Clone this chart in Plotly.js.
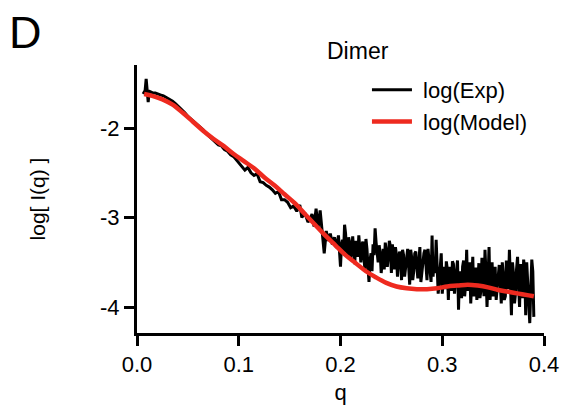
<!DOCTYPE html>
<html>
<head>
<meta charset="utf-8">
<script src="https://cdn.plot.ly/plotly-3.0.1.min.js"></script>
<style>
html,body{margin:0;padding:0;background:#fff;}
#chart{width:561px;height:405px;}
</style>
</head>
<body>
<div id="chart"></div>
<script>
// Model curve
var qModel = [0.007,0.015,0.025,0.035,0.045,0.055,0.065,0.075,0.085,0.095,0.105,0.115,0.125,0.135,0.145,0.155,0.165,0.175,0.185,0.195,0.205,0.215,0.225,0.235,0.245,0.255,0.265,0.275,0.285,0.295,0.305,0.315,0.325,0.335,0.345,0.355,0.365,0.375,0.385,0.390];
var logModel = [-1.62,-1.64,-1.68,-1.74,-1.83,-1.93,-2.03,-2.12,-2.20,-2.29,-2.37,-2.45,-2.55,-2.64,-2.74,-2.84,-2.96,-3.08,-3.20,-3.31,-3.42,-3.51,-3.60,-3.67,-3.73,-3.77,-3.79,-3.80,-3.80,-3.79,-3.77,-3.76,-3.75,-3.76,-3.78,-3.81,-3.83,-3.85,-3.87,-3.88];

var expData = [
[0.006,-1.62],[0.008,-1.58],[0.009,-1.45],[0.010,-1.60],[0.011,-1.71],[0.012,-1.59],[0.014,-1.60],[0.016,-1.61],
[0.018,-1.61],[0.020,-1.62],[0.023,-1.63],[0.026,-1.64],[0.029,-1.66],[0.032,-1.68],[0.035,-1.70],[0.038,-1.73],
[0.041,-1.76],[0.044,-1.79],[0.047,-1.83],[0.050,-1.87],[0.053,-1.90],[0.056,-1.92],[0.059,-1.96],[0.062,-1.99],
[0.065,-2.02],[0.068,-2.06],[0.071,-2.09],[0.074,-2.12],[0.077,-2.15],[0.080,-2.19],[0.083,-2.20],[0.086,-2.24],
[0.089,-2.26],[0.092,-2.30],[0.095,-2.32],[0.098,-2.36],
[0.100,-2.38],[0.103,-2.42],[0.106,-2.47],[0.109,-2.44],[0.112,-2.50],[0.115,-2.53],[0.118,-2.51],[0.121,-2.60],
[0.124,-2.61],[0.127,-2.64],[0.130,-2.66],[0.133,-2.69],[0.136,-2.73],[0.139,-2.71],[0.142,-2.80],[0.145,-2.80],
[0.148,-2.83],[0.151,-2.89],[0.154,-2.87],[0.157,-2.93],[0.160,-2.86],[0.162,-3.00],[0.165,-2.95],[0.168,-3.05],
[0.170,-3.02],[0.172,-2.96],[0.174,-3.10],[0.176,-2.90],[0.178,-3.12],[0.180,-2.92],[0.182,-3.20],[0.184,-3.40],
[0.186,-3.15],[0.188,-3.26],[0.190,-3.18],[0.192,-3.30],[0.194,-3.22],[0.196,-3.34],[0.198,-3.20],
[0.200,-3.55],[0.202,-3.25],[0.204,-3.08],[0.206,-3.38],[0.208,-3.22],[0.210,-3.45],[0.212,-3.21],[0.214,-3.52],
[0.216,-3.30],[0.218,-3.20],[0.220,-3.50],[0.222,-3.27],[0.224,-3.58],[0.226,-3.35],[0.228,-3.72],[0.230,-3.40],
[0.232,-3.30],[0.234,-3.12],[0.236,-3.45],[0.238,-3.31],[0.240,-3.62],[0.242,-3.35],[0.244,-3.28],[0.246,-3.55],
[0.248,-3.26],[0.250,-3.62],[0.252,-3.40],[0.254,-3.33],[0.256,-3.66],[0.258,-3.38],[0.260,-3.70],[0.262,-3.42],
[0.264,-3.52],[0.266,-3.35],[0.268,-3.75],[0.270,-3.45],[0.272,-3.60],[0.274,-3.38],[0.276,-3.68],[0.278,-3.33],
[0.280,-3.62],[0.282,-3.40],[0.284,-3.58],[0.286,-3.35],[0.288,-3.55],[0.290,-3.20],[0.292,-3.45],[0.294,-3.25],
[0.296,-3.85],[0.298,-3.50],[0.300,-3.85],[0.302,-3.55],[0.304,-3.49],[0.306,-3.92],[0.308,-3.60],[0.310,-3.49],
[0.312,-3.85],[0.314,-3.62],[0.316,-4.03],[0.318,-3.70],[0.320,-3.55],[0.322,-3.88],[0.324,-3.36],[0.326,-3.70],
[0.328,-3.96],[0.330,-3.44],[0.332,-3.75],[0.334,-3.92],[0.336,-3.51],[0.338,-3.82],[0.340,-3.60],[0.342,-3.36],
[0.344,-4.00],[0.346,-3.33],[0.348,-3.75],[0.350,-3.88],[0.352,-3.55],[0.354,-3.80],[0.356,-3.53],[0.358,-3.96],
[0.360,-3.65],[0.362,-3.88],[0.364,-3.58],[0.366,-3.36],[0.368,-4.09],[0.370,-3.62],[0.372,-3.85],[0.374,-3.44],
[0.376,-4.00],[0.378,-3.65],[0.380,-3.47],[0.382,-4.09],[0.384,-3.70],[0.386,-4.18],[0.388,-3.47],[0.390,-4.11]
];
// Additional experimental points between the ones above (high-q noisy region)
var expDataFine = [
[0.201,-3.30],[0.203,-3.40],[0.205,-3.18],[0.207,-3.42],[0.209,-3.28],[0.211,-3.36],[0.213,-3.40],[0.215,-3.26],
[0.217,-3.44],[0.219,-3.35],[0.221,-3.30],[0.223,-3.45],[0.225,-3.24],[0.227,-3.55],[0.229,-3.48],[0.231,-3.60],
[0.233,-3.42],[0.235,-3.28],[0.237,-3.50],[0.239,-3.40],[0.241,-3.46],[0.243,-3.58],[0.245,-3.38],[0.247,-3.44],
[0.249,-3.32],[0.251,-3.30],[0.253,-3.58],[0.255,-3.42],[0.257,-3.50],[0.259,-3.44],[0.261,-3.36],[0.263,-3.66],
[0.265,-3.46],[0.267,-3.50],[0.269,-3.36],[0.271,-3.70],[0.273,-3.40],[0.275,-3.55],[0.277,-3.50],[0.279,-3.72],
[0.281,-3.45],[0.283,-3.36],[0.285,-3.70],[0.287,-3.50],[0.289,-3.72],[0.291,-3.66],[0.293,-3.62],[0.295,-3.48],
[0.297,-3.72],[0.299,-3.40],[0.301,-3.62],[0.303,-3.80],[0.305,-3.58],[0.307,-3.55],[0.309,-3.82],[0.311,-3.52],
[0.313,-3.72],[0.315,-3.48],[0.317,-3.60],[0.319,-3.90],[0.321,-3.48],[0.323,-3.75],[0.325,-3.82],[0.327,-3.50],
[0.329,-3.68],[0.331,-3.88],[0.333,-3.56],[0.335,-3.68],[0.337,-3.90],[0.339,-3.45],[0.341,-3.88],[0.343,-3.62],
[0.345,-3.68],[0.347,-3.92],[0.349,-3.50],[0.351,-3.62],[0.353,-3.92],[0.355,-3.66],[0.357,-3.72],[0.359,-3.50],
[0.361,-3.92],[0.363,-3.48],[0.365,-3.80],[0.367,-3.72],[0.369,-3.50],[0.371,-3.96],[0.373,-3.58],[0.375,-3.76],
[0.377,-3.52],[0.379,-3.90],[0.381,-3.58],[0.383,-3.50],[0.385,-3.95],[0.387,-3.80],[0.389,-3.60]
];

var xTicks = [0.0, 0.1, 0.2, 0.3, 0.4];
var xTickText = ['0.0', '0.1', '0.2', '0.3', '0.4'];
var yTicks = [-4, -3, -2];
var yTickText = ['-4', '-3', '-2'];
var seriesNames = ['log(Exp)', 'log(Model)'];

var FONT = 'Liberation Sans, Arial, Helvetica, sans-serif';

var expAll = expData.concat(expDataFine).sort(function(a, b){ return a[0] - b[0]; });

var traces = [
  {
    x: expAll.map(function(d){return d[0];}),
    y: expAll.map(function(d){return d[1];}),
    type: 'scatter', mode: 'lines', name: '\u00a0' + seriesNames[0],
    line: {color: '#000000', width: 3}
  },
  {
    x: qModel, y: logModel,
    type: 'scatter', mode: 'lines', name: '\u00a0' + seriesNames[1],
    line: {color: '#ee2a1f', width: 4.5, shape: 'spline', smoothing: 1}
  }
];

var layout = {
  width: 561, height: 405,
  margin: {l: 137, r: 17, t: 65, b: 72, pad: 0},
  paper_bgcolor: '#fff', plot_bgcolor: '#fff',
  font: {family: FONT, size: 22, color: '#000'},
  showlegend: true,
  legend: {
    x: 0.565, xanchor: 'left', y: 0.985, yanchor: 'top',
    bgcolor: 'rgba(0,0,0,0)', borderwidth: 0,
    font: {family: FONT, size: 22, color: '#000'},
    tracegroupgap: 0, itemwidth: 40
  },
  xaxis: {
    range: [0, 0.4], tickvals: xTicks, ticktext: xTickText,
    showline: true, linewidth: 3, linecolor: '#000', mirror: false,
    ticks: 'outside', ticklen: 10, tickwidth: 3, tickcolor: '#000',
    showgrid: false, zeroline: false,
    tickfont: {family: FONT, size: 22, color: '#000'},
    title: {text: 'q', font: {family: FONT, size: 22, color: '#000'}, standoff: 10}
  },
  yaxis: {
    range: [-4.29, -1.296], tickvals: yTicks, ticktext: yTickText,
    showline: true, linewidth: 3, linecolor: '#000', mirror: false,
    ticks: 'outside', ticklen: 10, tickwidth: 3, tickcolor: '#000',
    showgrid: false, zeroline: false,
    tickfont: {family: FONT, size: 22, color: '#000'},
    title: {text: 'log[ I(q) ]', font: {family: FONT, size: 21, color: '#000'}, standoff: 49}
  },
  annotations: [
    {text: 'D', xref: 'paper', yref: 'paper', x: (7-137)/407, y: 1 + (65-5)/268,
     xanchor: 'left', yanchor: 'top', showarrow: false,
     font: {family: FONT, size: 45, color: '#000'}},
    {text: 'Dimer', xref: 'paper', yref: 'paper', x: (358-137)/407, y: 1 + (65-51)/268,
     xanchor: 'center', yanchor: 'middle', showarrow: false,
     font: {family: FONT, size: 23, color: '#000'}}
  ]
};

Plotly.newPlot('chart', traces, layout, {displayModeBar: false, staticPlot: true});
</script>
</body>
</html>
